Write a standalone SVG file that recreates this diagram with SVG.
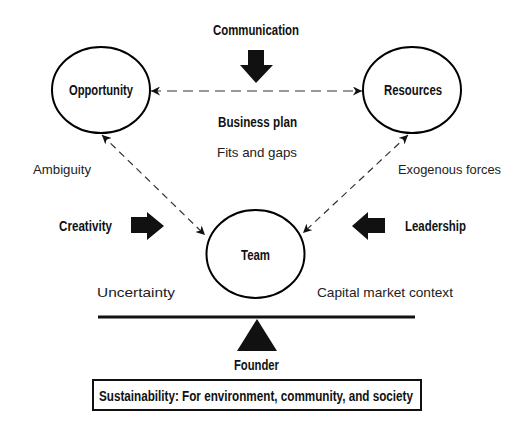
<svg xmlns="http://www.w3.org/2000/svg" width="519" height="443" viewBox="0 0 519 443">
<style>
.node{fill:#fff;stroke:#000;stroke-width:2}
.b{font-family:"Liberation Sans",Arial,sans-serif;font-weight:bold;font-size:14px;fill:#111;text-anchor:middle}
.r{font-family:"Liberation Sans",Arial,sans-serif;font-size:13px;fill:#222}
.dash{fill:none;stroke:#333;stroke-width:1.2}
.solid{fill:#111;stroke:none}
</style>
<defs>
<marker id="ah" viewBox="0 0 10 10" refX="10" refY="5" markerWidth="9" markerHeight="9" markerUnits="userSpaceOnUse" orient="auto-start-reverse">
<path d="M0,0 L10,5 L0,10 L3,5 Z" fill="#111"/>
</marker>
</defs>
<rect width="519" height="443" fill="#fff"/>

<g id="opportunity">
<ellipse class="node" cx="101" cy="90" rx="49" ry="43"/>
<text class="b" x="101" y="95" textLength="64" lengthAdjust="spacingAndGlyphs">Opportunity</text>
</g>
<g id="resources">
<ellipse class="node" cx="412" cy="90" rx="49" ry="43"/>
<text class="b" x="413" y="95" textLength="58" lengthAdjust="spacingAndGlyphs">Resources</text>
</g>
<g id="team">
<ellipse class="node" cx="255.5" cy="254" rx="49" ry="44"/>
<text class="b" x="255.5" y="260" textLength="29" lengthAdjust="spacingAndGlyphs">Team</text>
</g>

<g id="connectors">
<line class="dash" x1="151" y1="91" x2="362" y2="91" stroke-dasharray="10,6" marker-start="url(#ah)" marker-end="url(#ah)"/>
<line class="dash" x1="102" y1="135" x2="205" y2="235" stroke-dasharray="7,5" marker-start="url(#ah)" marker-end="url(#ah)"/>
<line class="dash" x1="408" y1="135" x2="303" y2="233" stroke-dasharray="7,5" marker-start="url(#ah)" marker-end="url(#ah)"/>
</g>

<g id="communication">
<text class="b" x="256" y="35" textLength="86" lengthAdjust="spacingAndGlyphs">Communication</text>
<polygon class="solid" points="248,50 264,50 264,65 273,65 256,83 240,65 248,65"/>
</g>
<g id="business-plan">
<text class="b" x="257.5" y="127" textLength="79" lengthAdjust="spacingAndGlyphs">Business plan</text>
<text class="r" x="217" y="157" textLength="80" lengthAdjust="spacingAndGlyphs">Fits and gaps</text>
</g>
<g id="creativity">
<text class="b" x="85.5" y="231" textLength="53" lengthAdjust="spacingAndGlyphs">Creativity</text>
<polygon class="solid" points="131,217 147,217 147,212 164,226 147,240 147,233 131,233"/>
</g>
<g id="leadership">
<text class="b" x="435.5" y="231" textLength="61" lengthAdjust="spacingAndGlyphs">Leadership</text>
<polygon class="solid" points="385,218 368,218 368,212 352,226 368,240 368,233 385,233"/>
</g>
<g id="labels">
<text class="r" x="33" y="174" textLength="58" lengthAdjust="spacingAndGlyphs">Ambiguity</text>
<text class="r" x="398" y="174" textLength="103" lengthAdjust="spacingAndGlyphs">Exogenous forces</text>
<text class="r" x="97" y="297" textLength="78" lengthAdjust="spacingAndGlyphs">Uncertainty</text>
<text class="r" x="317" y="297" textLength="136" lengthAdjust="spacingAndGlyphs">Capital market context</text>
</g>
<g id="founder">
<rect x="98" y="315.5" width="317" height="3" fill="#111"/>
<polygon class="solid" points="257,319 277,351 237,351"/>
<text class="b" x="256.5" y="370" textLength="45" lengthAdjust="spacingAndGlyphs">Founder</text>
</g>
<g id="sustainability">
<rect x="93" y="380" width="328" height="30" fill="#fff" stroke="#111" stroke-width="2"/>
<text class="b" x="256" y="401" textLength="314" lengthAdjust="spacingAndGlyphs">Sustainability: For environment, community, and society</text>
</g>
</svg>
